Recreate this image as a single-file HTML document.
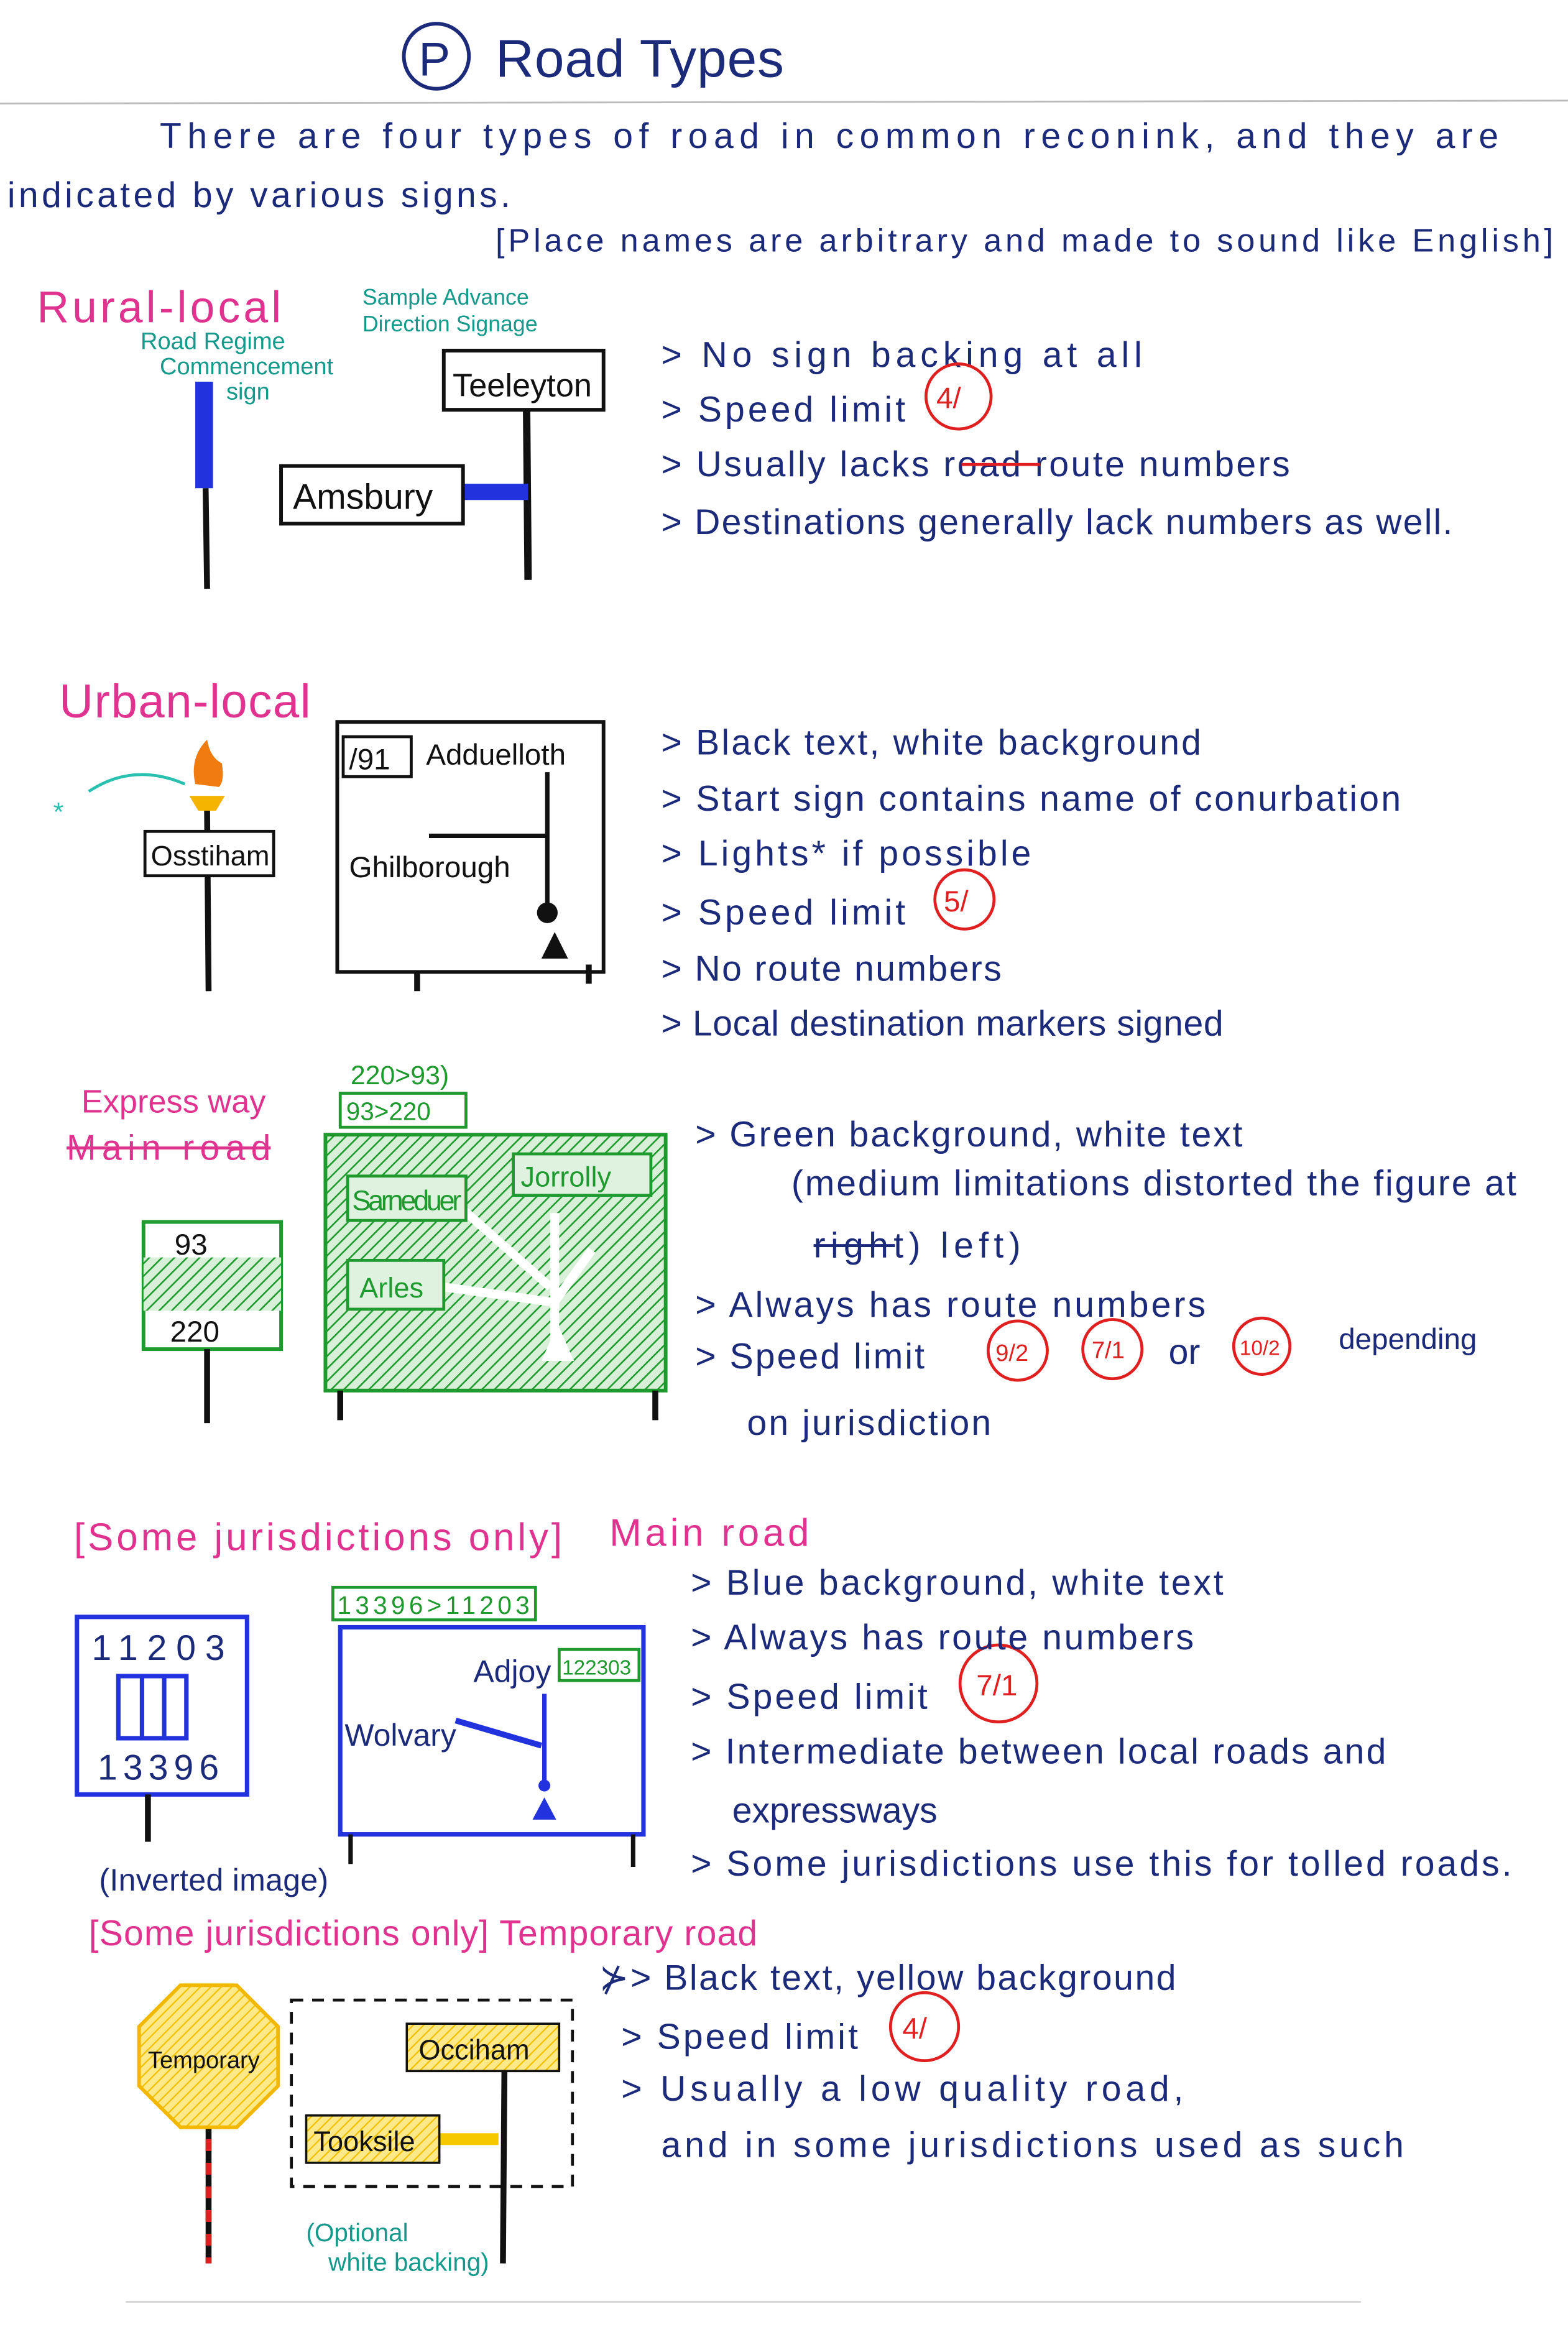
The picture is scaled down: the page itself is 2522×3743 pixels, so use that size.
<!DOCTYPE html>
<html><head><meta charset="utf-8"><style>
html,body{margin:0;padding:0;background:#fff}
svg{display:block}
text{font-family:"Liberation Sans",sans-serif}
</style></head><body>
<svg width="2522" height="3743" viewBox="0 0 1060 1573" preserveAspectRatio="none" xmlns="http://www.w3.org/2000/svg">
<defs>
<pattern id="gh" width="6" height="6" patternUnits="userSpaceOnUse" patternTransform="rotate(45)">
<rect width="6" height="6" fill="#d8f0d8"/><line x1="0" y1="0" x2="0" y2="6" stroke="#1e9a2e" stroke-width="2.2"/></pattern>
<pattern id="yh" width="5" height="5" patternUnits="userSpaceOnUse" patternTransform="rotate(45)">
<rect width="5" height="5" fill="#fde98a"/><line x1="0" y1="0" x2="0" y2="5" stroke="#f2c200" stroke-width="2"/></pattern>
</defs>
<rect width="1060" height="1573" fill="#fff"/>
<line x1="0" y1="70" x2="1060" y2="68" stroke="#bbb" stroke-width="1.2"/>
<line x1="85" y1="1556" x2="920" y2="1556" stroke="#ccc" stroke-width="1"/>
<g fill="#1c2a7a">
<circle cx="295" cy="38" r="22" fill="none" stroke="#1c2a7a" stroke-width="2.5"/>
<text x="283" y="51" font-size="32">P</text>
<text x="335" y="52" font-size="36" textLength="195">Road Types</text>
<text x="108" y="100" font-size="24" textLength="905">There are four types of road in common reconink, and they are</text>
<text x="5" y="140" font-size="24" textLength="340">indicated by various signs.</text>
<text x="335" y="170" font-size="22" textLength="715">[Place names are arbitrary and made to sound like English]</text>
</g>
<text x="25" y="218" font-size="30" fill="#e0338f" textLength="165">Rural-local</text>
<g fill="#14998a" font-size="16">
<text x="95" y="236">Road Regime</text><text x="108" y="253">Commencement</text><text x="153" y="270">sign</text>
<text x="245" y="206" font-size="15">Sample Advance</text><text x="245" y="224" font-size="15">Direction Signage</text>
</g>
<rect x="132" y="258" width="12" height="72" fill="#2233dd"/>
<line x1="139" y1="330" x2="140" y2="398" stroke="#111" stroke-width="4"/>
<line x1="356" y1="277" x2="357" y2="392" stroke="#111" stroke-width="5"/>
<rect x="300" y="237" width="108" height="40" fill="#fff" stroke="#111" stroke-width="2.5"/>
<text x="306" y="268" font-size="22" fill="#111">Teeleyton</text>
<rect x="313" y="327" width="44" height="11" fill="#2233dd"/>
<rect x="190" y="315" width="123" height="39" fill="#fff" stroke="#111" stroke-width="2.5"/>
<text x="198" y="344" font-size="24" fill="#111">Amsbury</text>
<g fill="#1c2a7a" font-size="24">
<text x="447" y="248" textLength="325">&gt; No sign backing at all</text>
<text x="447" y="285" textLength="165">&gt; Speed limit</text>
<text x="447" y="322" textLength="425">&gt; Usually lacks road route numbers</text>
<text x="447" y="361" textLength="535">&gt; Destinations generally lack numbers as well.</text>
</g>
<line x1="650" y1="314" x2="703" y2="314" stroke="#e02020" stroke-width="2"/>
<g fill="none" stroke="#e02020" stroke-width="2"><circle cx="648" cy="268" r="22"/><circle cx="652" cy="608" r="20"/><circle cx="688" cy="913" r="20"/><circle cx="752" cy="912" r="20"/><circle cx="853" cy="910" r="19"/><circle cx="675" cy="1138" r="26"/><circle cx="625" cy="1370" r="23"/></g>
<g fill="#e02020" font-size="20"><text x="633" y="276">4/</text><text x="638" y="616">5/</text><text x="673" y="920" font-size="16">9/2</text><text x="738" y="918" font-size="16">7/1</text><text x="838" y="916" font-size="14">10/2</text><text x="660" y="1146">7/1</text><text x="610" y="1378">4/</text></g>
<text x="40" y="485" font-size="32" fill="#e0338f" textLength="170">Urban-local</text>
<path d="M128 538 L152 538 L146 548 L134 548Z" fill="#f5b400"/>
<path d="M132 530 Q128 512 140 500 Q142 512 150 516 Q152 528 148 532Z" fill="#f07b10"/>
<path d="M60 535 Q90 515 125 530" fill="none" stroke="#2ac0b0" stroke-width="2"/>
<text x="36" y="555" font-size="18" fill="#2ac0b0">*</text>
<line x1="140" y1="548" x2="141" y2="670" stroke="#111" stroke-width="4"/>
<rect x="98" y="562" width="87" height="30" fill="#fff" stroke="#111" stroke-width="2"/>
<text x="102" y="585" font-size="19" fill="#111">Osstiham</text>
<rect x="228" y="488" width="180" height="169" fill="#fff" stroke="#111" stroke-width="2.5"/>
<rect x="232" y="498" width="46" height="27" fill="none" stroke="#111" stroke-width="2"/>
<text x="236" y="520" font-size="20" fill="#111">/91</text>
<text x="288" y="517" font-size="20" fill="#111">Adduelloth</text>
<text x="236" y="593" font-size="20" fill="#111">Ghilborough</text>
<line x1="370" y1="522" x2="370" y2="612" stroke="#111" stroke-width="3"/>
<line x1="290" y1="565" x2="370" y2="565" stroke="#111" stroke-width="3"/>
<circle cx="370" cy="617" r="7" fill="#111"/>
<path d="M366 648 L375 630 L384 648Z" fill="#111"/>
<line x1="282" y1="657" x2="282" y2="670" stroke="#111" stroke-width="4"/>
<line x1="398" y1="652" x2="398" y2="665" stroke="#111" stroke-width="4"/>
<g fill="#1c2a7a" font-size="24">
<text x="447" y="510" textLength="365">&gt; Black text, white background</text>
<text x="447" y="548" textLength="500">&gt; Start sign contains name of conurbation</text>
<text x="447" y="585" textLength="250">&gt; Lights* if possible</text>
<text x="447" y="625" textLength="165">&gt; Speed limit</text>
<text x="447" y="663" textLength="230">&gt; No route numbers</text>
<text x="447" y="700" textLength="380">&gt; Local destination markers signed</text>
</g>
<text x="55" y="752" font-size="22" fill="#e0338f">Express way</text>
<text x="45" y="784" font-size="24" fill="#e0338f" textLength="138">Main road</text>
<line x1="45" y1="776" x2="183" y2="776" stroke="#e0338f" stroke-width="2"/>
<rect x="97" y="826" width="93" height="86" fill="#fff" stroke="#1e9a2e" stroke-width="2.5"/>
<rect x="97" y="850" width="93" height="36" fill="url(#gh)"/>
<text x="118" y="848" font-size="20" fill="#111">93</text>
<text x="115" y="907" font-size="20" fill="#111">220</text>
<line x1="140" y1="912" x2="140" y2="962" stroke="#111" stroke-width="4"/>
<text x="237" y="733" font-size="18" fill="#1e9a2e">220&gt;93)</text>
<rect x="230" y="739" width="85" height="23" fill="#fff" stroke="#1e9a2e" stroke-width="2"/>
<text x="234" y="757" font-size="17" fill="#1e9a2e">93&gt;220</text>
<rect x="220" y="767" width="230" height="173" fill="url(#gh)" stroke="#1e9a2e" stroke-width="2.5"/>
<g stroke="#fff" stroke-width="6" fill="none"><path d="M375 820 L375 915"/><path d="M310 815 L372 870"/><path d="M300 870 L372 880"/><path d="M375 880 L400 845"/></g>
<path d="M366 920 L377 895 L388 920Z" fill="#fff"/>
<g fill="#dff2df" stroke="#1e9a2e" stroke-width="2"><rect x="235" y="795" width="80" height="30"/><rect x="347" y="780" width="93" height="28"/><rect x="235" y="852" width="65" height="33"/></g>
<g fill="#1e9a2e" font-size="19"><text x="238" y="818" textLength="74">Sarneduer</text><text x="352" y="802">Jorrolly</text><text x="243" y="877">Arles</text></g>
<line x1="230" y1="940" x2="230" y2="960" stroke="#111" stroke-width="4"/>
<line x1="443" y1="940" x2="443" y2="960" stroke="#111" stroke-width="4"/>
<g fill="#1c2a7a" font-size="24">
<text x="470" y="775" textLength="370">&gt; Green background, white text</text>
<text x="535" y="808" textLength="490">(medium limitations distorted the figure at</text>
<text x="550" y="850" textLength="140">right) left)</text>
<text x="470" y="890" textLength="345">&gt; Always has route numbers</text>
<text x="470" y="925" textLength="155">&gt; Speed limit</text>
<text x="790" y="922">or</text>
<text x="905" y="912" font-size="20">depending</text>
<text x="505" y="970" textLength="165">on jurisdiction</text>
</g>
<line x1="550" y1="842" x2="605" y2="842" stroke="#1c2a7a" stroke-width="2"/>
<text x="50" y="1048" font-size="26" fill="#e0338f" textLength="330">[Some jurisdictions only]</text>
<text x="412" y="1045" font-size="26" fill="#e0338f" textLength="135">Main road</text>
<rect x="52" y="1093" width="115" height="120" fill="#fff" stroke="#2233dd" stroke-width="3"/>
<text x="62" y="1122" font-size="24" fill="#1c2a7a" textLength="90">11203</text>
<text x="66" y="1203" font-size="24" fill="#1c2a7a" textLength="82">13396</text>
<rect x="80" y="1133" width="46" height="42" fill="none" stroke="#2233dd" stroke-width="3"/>
<line x1="96" y1="1133" x2="96" y2="1175" stroke="#2233dd" stroke-width="3"/><line x1="111" y1="1133" x2="111" y2="1175" stroke="#2233dd" stroke-width="3"/>
<line x1="100" y1="1213" x2="100" y2="1245" stroke="#111" stroke-width="4"/>
<rect x="225" y="1073" width="137" height="22" fill="#fff" stroke="#1e9a2e" stroke-width="2"/>
<text x="228" y="1091" font-size="17" fill="#1e9a2e" textLength="130">13396&gt;11203</text>
<rect x="230" y="1100" width="205" height="140" fill="#fff" stroke="#2233dd" stroke-width="3"/>
<text x="320" y="1137" font-size="21" fill="#1c2a7a">Adjoy</text>
<rect x="378" y="1115" width="54" height="21" fill="#fff" stroke="#1e9a2e" stroke-width="2"/>
<text x="380" y="1132" font-size="14" fill="#1e9a2e">122303</text>
<text x="233" y="1180" font-size="21" fill="#1c2a7a">Wolvary</text>
<line x1="368" y1="1145" x2="368" y2="1205" stroke="#2233dd" stroke-width="3"/>
<line x1="308" y1="1163" x2="366" y2="1180" stroke="#2233dd" stroke-width="4"/>
<circle cx="368" cy="1207" r="4" fill="#2233dd"/>
<path d="M360 1230 L368 1215 L376 1230Z" fill="#2233dd"/>
<line x1="237" y1="1240" x2="237" y2="1260" stroke="#111" stroke-width="3"/>
<line x1="428" y1="1240" x2="428" y2="1262" stroke="#111" stroke-width="3"/>
<text x="67" y="1278" font-size="21" fill="#1c2a7a" textLength="155">(Inverted image)</text>
<g fill="#1c2a7a" font-size="24">
<text x="467" y="1078" textLength="360">&gt; Blue background, white text</text>
<text x="467" y="1115" textLength="340">&gt; Always has route numbers</text>
<text x="467" y="1155" textLength="160">&gt; Speed limit</text>
<text x="467" y="1192" textLength="470">&gt; Intermediate between local roads and</text>
<text x="495" y="1232">expressways</text>
<text x="467" y="1268" textLength="555">&gt; Some jurisdictions use this for tolled roads.</text>
</g>
<text x="60" y="1315" font-size="24" fill="#e0338f" textLength="452">[Some jurisdictions only] Temporary road</text>
<line x1="141" y1="1430" x2="141" y2="1530" stroke="#111" stroke-width="4" />
<line x1="141" y1="1430" x2="141" y2="1530" stroke="#e02020" stroke-width="4" stroke-dasharray="8 8"/>
<polygon points="122,1342 160,1342 188,1370 188,1410 160,1438 122,1438 94,1410 94,1370" fill="url(#yh)" stroke="#f2b800" stroke-width="2.5"/>
<text x="100" y="1398" font-size="16" fill="#111">Temporary</text>
<rect x="197" y="1352" width="190" height="126" fill="none" stroke="#111" stroke-width="2" stroke-dasharray="8 6"/>
<line x1="341" y1="1400" x2="340" y2="1530" stroke="#111" stroke-width="4"/>
<rect x="297" y="1442" width="40" height="8" fill="#f5c800"/>
<rect x="275" y="1368" width="103" height="32" fill="url(#yh)" stroke="#111" stroke-width="1.5"/>
<text x="283" y="1392" font-size="19" fill="#111">Occiham</text>
<rect x="207" y="1430" width="90" height="32" fill="url(#yh)" stroke="#111" stroke-width="1.5"/>
<text x="212" y="1454" font-size="19" fill="#111">Tooksile</text>
<text x="207" y="1515" font-size="17" fill="#14998a">(Optional</text>
<text x="222" y="1535" font-size="17" fill="#14998a">white backing)</text>
<g fill="#1c2a7a" font-size="24">
<text x="405" y="1345" textLength="390">⊁&gt; Black text, yellow background</text>
<text x="420" y="1385" textLength="160">&gt; Speed limit</text>
<text x="420" y="1420" textLength="380">&gt; Usually a low quality road,</text>
<text x="447" y="1458" textLength="502">and in some jurisdictions used as such</text>
</g>
</svg>
</body></html>
